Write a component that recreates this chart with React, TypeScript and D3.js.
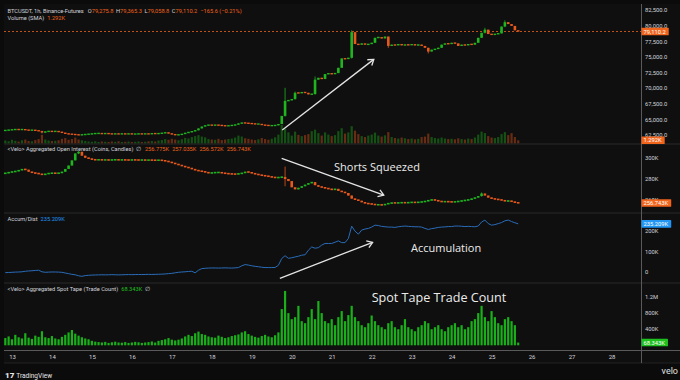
import React, { useEffect, useRef } from 'react';
import * as d3 from 'd3';

const W = 680;
const H = 380;

// one bar every 2 hours, first bar on 12 Mar evening
const START_DAY = 12.82;
const STEP_DAYS = 2 / 24;

const dayTicks = [13, 14, 15, 16, 17, 18, 19, 20, 21, 22, 23, 24, 25, 26, 27, 28];

// BTCUSDT closes
const priceOpenFirst = 63250;
const priceClose = [
  63300, 63350, 63400, 63450, 63400, 63450, 63350, 63300, 63350, 63250,
  63200, 62950, 63100, 63150, 63100, 63150, 63050, 62900, 62750, 62700,
  62650, 62600, 62550, 62600, 62650, 62700, 62750, 62800, 62800, 62750,
  62800, 62750, 62700, 62750, 62700, 62750, 62700, 62750, 62700, 62700,
  62750, 62700, 62750, 62700, 62800, 62750, 62800, 62850, 62950, 62800,
  62650, 62550, 62600, 62700, 62900, 63000, 63150, 63300, 63600, 63900,
  64100, 64150, 64100, 64150, 64100, 64050, 64000, 64050, 64100, 64200,
  64400, 64500, 64450, 64400, 64350, 64300, 64300, 64150, 64100, 64050,
  64050, 64100, 64300, 65600, 68000, 68100, 68300, 69300, 69250, 69400,
  69300, 69050, 69100, 71400, 71700, 71500, 72300, 72400, 72300, 72450,
  73300, 74800, 74700, 74900, 79000, 77100, 77000, 77200, 77000, 77100,
  77300, 78100, 78200, 78000, 78300, 76800, 77000, 76900, 77100, 76900,
  77000, 76950, 77050, 76900, 77000, 76800, 76500, 75900, 76200, 76300,
  76500, 77000, 77200, 77100, 77300, 77200, 76800, 77000, 76900, 77100,
  77000, 77300, 78100, 78900, 79400, 78700, 78600, 78700, 78800, 79900,
  80600, 80300, 80000, 79300, 79110,
];
// [bar, high, low] where the wick sticks out
const priceWicks = [
  [11, 63100, 62800], [84, 70100, 65500], [87, 69500, 68200], [93, 71900, 69000],
  [104, 79300, 74800], [115, 78300, 76500], [127, 76500, 75600], [144, 79700, 78800], [150, 80900, 79800],
];

// volume (SMA pane), K
const volumeK = [
  1.2, 0.9, 1.5, 1.1, 0.8, 1.3, 1.6, 1.0, 0.9, 1.4,
  1.8, 3.5, 1.6, 1.2, 1.0, 1.1, 1.3, 1.9, 2.2, 1.5,
  1.8, 2.4, 1.6, 1.3, 1.0, 0.8, 0.7, 0.9, 0.6, 0.8,
  0.7, 0.6, 0.8, 0.7, 0.9, 0.6, 0.7, 0.8, 0.6, 0.7,
  0.8, 0.6, 0.7, 0.9, 1.0, 0.8, 1.2, 1.4, 1.8, 1.5,
  1.9, 1.6, 1.3, 1.7, 2.3, 2.0, 2.6, 3.0, 3.4, 2.8,
  2.5, 1.8, 1.6, 1.5, 1.9, 1.4, 1.6, 1.8, 2.0, 2.4,
  3.2, 2.8, 2.1, 1.9, 1.6, 1.4, 1.7, 2.2, 1.8, 1.5,
  1.9, 2.5, 3.6, 7.5, 6.0, 4.5, 3.2, 4.8, 3.5, 3.0,
  3.4, 3.8, 5.0, 5.6, 4.2, 3.2, 4.5, 3.6, 3.0, 3.4,
  5.0, 6.2, 4.0, 4.5, 7.0, 5.2, 3.8, 3.0, 2.6, 3.2,
  3.6, 4.4, 3.2, 2.8, 3.3, 4.6, 2.6, 2.2, 2.0, 2.4,
  2.1, 1.8, 2.0, 1.7, 1.9, 2.6, 2.8, 4.0, 2.6, 2.2,
  2.0, 2.4, 2.0, 1.8, 1.9, 1.7, 2.1, 1.8, 1.6, 2.0,
  1.8, 2.4, 3.6, 4.8, 4.2, 3.0, 2.4, 2.2, 2.6, 3.8,
  4.6, 3.4, 4.2, 2.6, 1.292,
];

// aggregated open interest closes, K coins
const oiOpenFirst = 285.3;
const oiClose = [
  285.7, 286.5, 287, 287.5, 288.5, 289.5, 289, 287, 286, 285.5,
  285, 284, 285, 285.5, 285.7, 285.5, 285.7, 287, 289.7, 293,
  298, 304.7, 306.3, 302.5, 300.5, 299.7, 298.7, 298.5, 298.6, 298.4,
  298.5, 298.3, 298.5, 298.6, 298.4, 298.5, 298.4, 298.3, 298.5, 298.4,
  298.3, 298.4, 298.2, 298.3, 298.2, 298.1, 298.2, 297.9, 297.3, 296.5,
  295.5, 294.5, 293.5, 292.5, 291.5, 290.7, 289.5, 288.5, 287.7, 287.3,
  286.5, 285.7, 286, 286.3, 286.3, 285.8, 285.3, 285, 284.8, 284.7,
  285.2, 285.7, 287, 286.5, 285.5, 284.7, 284, 283.3, 283, 282.3,
  281.7, 281.3, 281.5, 282, 280, 278, 272, 270, 271.5, 273,
  274.5, 276, 277, 274, 272.5, 272, 271, 270.5, 269.5, 270.5,
  268.5, 267.5, 266.5, 264, 261, 260, 259, 257.5, 256.5, 256,
  255.7, 255, 255.2, 254.8, 255.8, 256.5, 257, 256.8, 257, 257.2,
  257, 257.3, 257.5, 257.3, 257.6, 258, 258.5, 259.5, 260, 259.5,
  258.5, 258, 258.2, 258, 257.8, 258, 258.5, 259, 259.5, 260,
  261, 262, 263.5, 266, 264, 262, 261, 260.5, 260, 259.5,
  258.5, 259, 258, 257.2, 256.743,
];
const oiWicks = [[22, 307, 304], [84, 292, 273], [143, 267, 263]];

// accumulation / distribution, K
const accumDist = [
  -1.5, -1, 0, 1, 1.5, 2.5, 5, 6.5, 7.5, 9,
  10, 2.5, 0, 1, 1.5, 1.5, 1, 0, -3.5, -6.5,
  -10, -12, -17, -19.5, -16, -14.5, -13.5, -13, -12.5, -12,
  -12.5, -12, -11.5, -12, -12.5, -12, -11.5, -11, -11.5, -11,
  -10.5, -11, -10.5, -10, -10.5, -10, -9.5, -9, -8, -6.5,
  -5, -2.5, 0, 1.5, 2.5, 4, 5, -2.5, 10, 18,
  19.5, 20.5, 21, 21, 20.5, 21, 21.5, 21, 20.5, 21.5,
  23, 31.5, 37.5, 35, 31.5, 29, 27, 24.5, 23, 23,
  23, 23.5, 34, 67, 80.5, 68, 70.5, 74.5, 78, 83,
  85, 107, 123, 117, 119.5, 132, 140, 140, 140, 146,
  152.5, 144, 144, 164, 224, 200, 185, 205, 210, 213,
  219.5, 229, 227, 223, 221, 219.5, 219.5, 218, 221, 223,
  224.5, 223, 222, 221, 221, 219.5, 213, 208, 212, 214.5,
  218, 219.5, 220.5, 222, 222, 224.5, 224.5, 223.5, 222, 223,
  222, 221, 224.5, 244, 253.5, 236.5, 229, 231.5, 236.5, 241.5,
  250, 253.5, 246.5, 240.5, 235.209,
];

// spot tape trade count, K
const spotTradesK = [
  180, 220, 150, 260, 200, 170, 300, 190, 160, 240, 210,
  350, 200, 180, 230, 170, 150, 210, 260, 320, 380, 290, 240, 200, 170, 150,
  110, 90, 80, 70, 85, 60, 75, 90, 70, 65, 80, 60, 70, 85, 75, 60, 70, 80, 95, 70, 110, 130, 150, 180, 140,
  120, 140, 170, 220, 260, 230, 300, 340, 280, 260, 220, 200, 190, 240, 210, 180, 200, 230, 250, 270,
  320, 350, 280, 240, 210, 190, 230, 260, 220, 200, 250, 320,
  900, 1350, 800, 650, 700, 980, 600, 550, 700, 900, 650, 1100, 800, 600, 550, 650, 500, 700, 850, 600, 750, 980,
  700, 600, 500, 450, 550, 740, 600, 500, 450, 400, 550, 600, 450, 400, 500, 650, 450, 400, 350, 450,
  500, 600, 550, 400, 450, 500, 400, 350, 450, 500, 550, 450, 500, 400, 450, 600, 650, 800, 980, 700,
  600, 850, 700, 550, 500, 650, 700, 600, 500, 68.343,
];

const priceTicks = [62500, 65000, 67500, 70000, 72500, 75000, 77500, 80000, 82500];
const oiTicks = [260, 280, 300];
const adTicks = [0, 100, 200];
const spotTicks = [400, 800, 1200];

const symbolTitle = 'BTCUSDT, 1h, Binance-Futures';
const ohlcLegend = [['O', '79,275.8'], ['H', '79,365.3'], ['L', '79,058.8'], ['C', '79,110.2']];
const changeLegend = '\u2212165.6 (\u22120.21%)';
const lastPrice = 79110.2;
const oiLegend = ['256.775K', '257.035K', '256.572K', '256.743K'];

// annotations in [day, value]
const priceArrow = [[19.75, 63340], [22.04, 74650]];
const oiArrow = [[19.735, 300], [22.29, 264.5]];
const adArrow = [[19.69, -29], [22.01, 145.6]];
const oiNote = { text: 'Shorts Squeezed', at: [22.12, 291.5] };
const adNote = { text: 'Accumulation', at: [23.85, 116.5] };
const spotNote = { text: 'Spot Tape Trade Count', at: [23.67, 1175] };

const UP = '#1fb51f';
const DOWN = '#e8581c';
const ORANGE = '#f0641c';
const TXT = '#d1d4dc';
const FONT = 'Roboto, "Noto Sans", sans-serif';

const App = () => {
  const svgRef = useRef<SVGSVGElement>(null);

  useEffect(() => {
    const svg = d3.select(svgRef.current);
    svg.selectAll('*').remove();

    const L = 4;
    const R = 641;

    const x = d3.scaleLinear().domain([13, 28]).range([12.5, 612]);
    const tx = (i: number) => x(START_DAY + i * STEP_DAYS);

    const yPrice = d3.scaleLinear().domain([62500, 82500]).range([135.3, 10.3]);
    const yVol = d3.scaleLinear().domain([0, 56]).range([143.5, 5]);
    const yOI = d3.scaleLinear().domain([260, 300]).range([199.7, 158.3]);
    const yAD = d3.scaleLinear().domain([0, 200]).range([272.3, 231.1]);
    const ySpot = d3.scaleLinear().domain([0, 1200]).range([345.3, 297]);

    const panels = [[4, 144], [144, 213], [213, 283], [283, 350]];

    svg.append('rect').attr('width', W).attr('height', H).attr('fill', '#0b0b0b');
    svg.append('rect').attr('x', L).attr('y', 4).attr('width', W - L).attr('height', 359).attr('fill', '#0f0f0f');

    const defs = svg.append('defs');
    panels.forEach(([t, b], k) => {
      defs.append('clipPath').attr('id', `clip${k}`)
        .append('rect').attr('x', L).attr('y', t + 0.5).attr('width', R - L).attr('height', b - t - 1);
    });
    // axis column clip, so a tag hides the tick under it
    panels.forEach(([t, b], k) => {
      defs.append('clipPath').attr('id', `axclip${k}`)
        .append('rect').attr('x', R + 1).attr('y', t + 0.5).attr('width', W - R).attr('height', b - t - 1);
    });

    // pane borders
    [144, 213, 283].forEach(yy => {
      svg.append('line').attr('x1', L).attr('x2', W).attr('y1', yy).attr('y2', yy)
        .attr('stroke', '#2a2a2a').attr('stroke-width', 1);
    });
    svg.append('line').attr('x1', L).attr('x2', W).attr('y1', 350.5).attr('y2', 350.5).attr('stroke', '#5a5a5a');
    svg.append('line').attr('x1', L).attr('x2', W).attr('y1', 363).attr('y2', 363).attr('stroke', '#222');
    svg.append('line').attr('x1', R + 0.5).attr('x2', R + 0.5).attr('y1', 4).attr('y2', 363).attr('stroke', '#5a5a5a');

    const candles = (g: any, closes: number[], open0: number, wicks: number[][], y: any, minH: number) => {
      const wickMap = new Map(wicks.map(w => [w[0], w]));
      const bars = closes.map((c, i) => {
        const o = i === 0 ? open0 : closes[i - 1];
        const w = wickMap.get(i);
        return {
          i, o, c,
          hi: Math.max(o, c, w ? w[1] : -Infinity),
          lo: Math.min(o, c, w ? w[2] : Infinity),
        };
      });
      g.selectAll('line.wick').data(bars).join('line').attr('class', 'wick')
        .attr('x1', (d: any) => tx(d.i)).attr('x2', (d: any) => tx(d.i))
        .attr('y1', (d: any) => y(d.hi)).attr('y2', (d: any) => y(d.lo))
        .attr('stroke', (d: any) => (d.c >= d.o ? UP : DOWN)).attr('stroke-width', 0.8);
      g.selectAll('rect.body').data(bars).join('rect').attr('class', 'body')
        .attr('x', (d: any) => tx(d.i) - 1.3).attr('width', 2.6)
        .attr('y', (d: any) => Math.min(y(Math.max(d.o, d.c)), (y(d.o) + y(d.c)) / 2 - minH / 2))
        .attr('height', (d: any) => Math.max(minH, Math.abs(y(d.o) - y(d.c))))
        .attr('fill', (d: any) => (d.c >= d.o ? UP : DOWN));
      return bars;
    };

    // price pane
    const gP = svg.append('g').attr('clip-path', 'url(#clip0)');
    const priceDir = priceClose.map((c, i) => c >= (i === 0 ? priceOpenFirst : priceClose[i - 1]));
    gP.selectAll('rect.vol').data(volumeK).join('rect').attr('class', 'vol')
      .attr('x', (d, i) => tx(i) - 1.1).attr('width', 2.2)
      .attr('y', d => yVol(d)).attr('height', d => yVol(0) - yVol(d))
      .attr('fill', (d, i) => (priceDir[i] ? UP : DOWN)).attr('opacity', 0.4);
    gP.append('line').attr('x1', L).attr('x2', R)
      .attr('y1', yPrice(lastPrice)).attr('y2', yPrice(lastPrice))
      .attr('stroke', ORANGE).attr('stroke-dasharray', '2,2').attr('stroke-width', 0.8);
    candles(gP.append('g'), priceClose, priceOpenFirst, priceWicks, yPrice, 1.4);

    // open interest pane
    const gO = svg.append('g').attr('clip-path', 'url(#clip1)');
    candles(gO.append('g'), oiClose, oiOpenFirst, oiWicks, yOI, 1.6);

    // accum / dist pane
    const gA = svg.append('g').attr('clip-path', 'url(#clip2)');
    gA.append('path').datum(accumDist)
      .attr('d', d3.line<number>().x((d, i) => tx(i)).y(d => yAD(d)))
      .attr('fill', 'none').attr('stroke', '#2a6cb8').attr('stroke-width', 1);

    // spot tape pane
    const gS = svg.append('g').attr('clip-path', 'url(#clip3)');
    gS.selectAll('rect').data(spotTradesK).join('rect')
      .attr('x', (d, i) => tx(i) - 1.1).attr('width', 2.2)
      .attr('y', d => ySpot(d)).attr('height', d => ySpot(0) - ySpot(d))
      .attr('fill', '#19b019');

    // right axis labels
    const axisLabels = (ticks: number[], y: any, fmt: (v: number) => string, k: number) => {
      svg.append('g').attr('clip-path', `url(#axclip${k})`).selectAll('text').data(ticks).join('text')
        .attr('x', 645).attr('y', d => y(d)).attr('dy', '0.35em')
        .attr('font-family', FONT).attr('font-size', 5.8).attr('fill', TXT)
        .text(d => fmt(d));
    };
    axisLabels(priceTicks, yPrice, d3.format(',.1f'), 0);
    axisLabels(oiTicks, yOI, v => `${v}K`, 1);
    axisLabels(adTicks, yAD, v => (v === 0 ? '0' : `${v}K`), 2);
    axisLabels(spotTicks, ySpot, v => (v >= 1000 ? `${v / 1000}M` : `${v}K`), 3);

    const tag = (yv: number, label: string, fill: string) => {
      const g = svg.append('g');
      const t = g.append('text').attr('x', 643.5).attr('y', yv).attr('dy', '0.35em')
        .attr('font-family', FONT).attr('font-size', 5.8).attr('fill', '#fff').text(label);
      const w = (t.node() as SVGTextElement).getComputedTextLength();
      g.insert('rect', 'text').attr('x', 641.5).attr('y', yv - 3.8).attr('width', w + 5).attr('height', 7.6)
        .attr('fill', fill).attr('rx', 0.6);
    };
    const lastVol = volumeK[volumeK.length - 1];
    const lastOI = oiClose[oiClose.length - 1];
    const lastAD = accumDist[accumDist.length - 1];
    const lastSpot = spotTradesK[spotTradesK.length - 1];
    tag(yPrice(lastPrice), d3.format(',.1f')(lastPrice), ORANGE);
    tag(yVol(lastVol), `${lastVol}K`, ORANGE);
    tag(yOI(lastOI), `${d3.format('.3f')(lastOI)}K`, ORANGE);
    tag(yAD(lastAD), `${d3.format('.3f')(lastAD)}K`, '#2196f3');
    tag(ySpot(lastSpot), `${d3.format('.3f')(lastSpot)}K`, '#1fc11f');

    // time axis
    svg.append('g').selectAll('text').data(dayTicks).join('text')
      .attr('x', d => x(d)).attr('y', 357).attr('dy', '0.35em').attr('text-anchor', 'middle')
      .attr('font-family', FONT).attr('font-size', 6).attr('fill', TXT)
      .text(d => d);

    // legends
    const legend = (yy: number) => svg.append('text').attr('x', 7.5).attr('y', yy).attr('dy', '0.35em')
      .attr('font-family', FONT).attr('font-size', 5.7).attr('fill', TXT);

    const l1 = legend(11);
    l1.append('tspan').text(symbolTitle);
    ohlcLegend.forEach(([k, v], j) => {
      l1.append('tspan').attr('dx', j === 0 ? 4 : 2.5).text(k);
      l1.append('tspan').attr('fill', ORANGE).text(v);
    });
    l1.append('tspan').attr('dx', 3).attr('fill', ORANGE).text(changeLegend);

    const l2 = legend(18.3);
    l2.append('tspan').text('Volume (SMA)');
    l2.append('tspan').attr('dx', 3).attr('fill', ORANGE).text(`${lastVol}K`);

    const l3 = legend(149.3);
    l3.append('tspan').text('<Velo> Aggregated Open Interest (Coins, Candles)');
    l3.append('tspan').attr('dx', 3).text('\u2205');
    oiLegend.forEach((v, j) => l3.append('tspan').attr('dx', j === 0 ? 3.5 : 3).attr('fill', ORANGE).text(v));

    const l4 = legend(219.3);
    l4.append('tspan').text('Accum/Dist');
    l4.append('tspan').attr('dx', 3).attr('fill', '#2196f3').text(`${d3.format('.3f')(lastAD)}K`);

    const l5 = legend(289);
    l5.append('tspan').text('<Velo> Aggregated Spot Tape (Trade Count)');
    l5.append('tspan').attr('dx', 3).attr('fill', '#1fc11f').text(`${d3.format('.3f')(lastSpot)}K`);
    l5.append('tspan').attr('dx', 3).text('\u2205');

    // annotations
    const arrow = (pts: number[][], y: any) => {
      const [x1, y1] = [x(pts[0][0]), y(pts[0][1])];
      const [x2, y2] = [x(pts[1][0]), y(pts[1][1])];
      const a = Math.atan2(y2 - y1, x2 - x1);
      const len = 6.5;
      const s = 0.6;
      const p1 = [x2 - len * Math.cos(a - s), y2 - len * Math.sin(a - s)];
      const p2 = [x2 - len * Math.cos(a + s), y2 - len * Math.sin(a + s)];
      const g = svg.append('g').attr('stroke', '#e4e4e4').attr('stroke-width', 1.3).attr('fill', 'none');
      g.append('line').attr('x1', x1).attr('y1', y1).attr('x2', x2).attr('y2', y2);
      g.append('path').attr('d', `M${p1[0]},${p1[1]}L${x2},${y2}L${p2[0]},${p2[1]}`);
    };
    arrow(priceArrow, yPrice);
    arrow(oiArrow, yOI);
    arrow(adArrow, yAD);

    const note = (n: any, y: any, size: number) => {
      svg.append('text').attr('x', x(n.at[0])).attr('y', y(n.at[1])).attr('dy', '0.35em')
        .attr('text-anchor', 'middle').attr('font-family', '"Open Sans", sans-serif')
        .attr('font-size', size).attr('fill', '#ececec').text(n.text);
    };
    note(oiNote, yOI, 11);
    note(adNote, yAD, 11);
    note(spotNote, ySpot, 12.6);

    // footer
    const foot = svg.append('text').attr('x', 5).attr('y', 372).attr('dy', '0.35em')
      .attr('font-family', FONT).attr('fill', '#e8e8e8');
    foot.append('tspan').attr('font-size', 8).attr('font-weight', 900).text('17');
    foot.append('tspan').attr('dx', 2).attr('font-size', 6.5).text('TradingView');
    svg.append('text').attr('x', 678).attr('y', 371).attr('dy', '0.35em').attr('text-anchor', 'end')
      .attr('font-family', FONT).attr('font-size', 9).attr('fill', '#e0e0e0').text('velo');
  }, []);

  return (
    <>
      <style>{'body{margin:0;background:#0b0b0b}'}</style>
      <svg ref={svgRef} width={W} height={H} style={{ display: 'block' }} />
    </>
  );
};

export default App;
